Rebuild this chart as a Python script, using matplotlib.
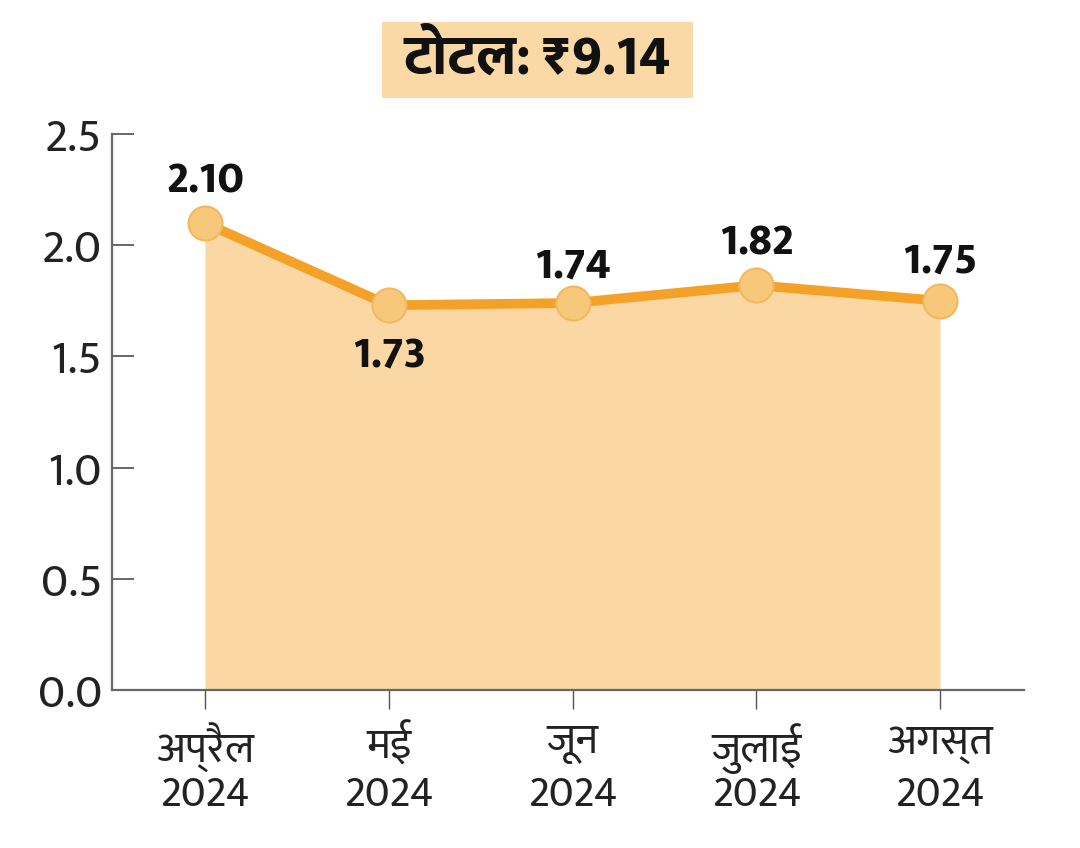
import matplotlib
matplotlib.use("Agg")
import matplotlib.pyplot as plt
from matplotlib import font_manager as fm
from matplotlib.patches import Rectangle

# ---- data ----
months = ["अप्रैल", "मई", "जून", "जुलाई", "अगस्त"]
years = ["2024", "2024", "2024", "2024", "2024"]
values = [2.10, 1.73, 1.74, 1.82, 1.75]
value_labels = ["2.10", "1.73", "1.74", "1.82", "1.75"]
y_ticks = [0.0, 0.5, 1.0, 1.5, 2.0, 2.5]
y_tick_labels = ["0.0", "0.5", "1.0", "1.5", "2.0", "2.5"]
title_text = "टोटल: ₹9.14"

installed = {}
for f in fm.fontManager.ttflist:
    installed.setdefault(f.name, set()).add(f.weight)

prefs = ["Mukta", "Ek Mukta", "Hind", "Noto Sans Devanagari", "FreeSans"]
fam = [p for p in prefs if p in installed][:2] + ["DejaVu Sans"]
plt.rcParams["font.family"] = fam
main = fam[0]
wts = installed.get(main, set())
bold_w = 800 if 800 in wts else "bold"

W, H = 1080, 848
fig = plt.figure(figsize=(W / 100, H / 100), dpi=100)

left, right, top, bottom = 112, 1024, 134, 690
ax = fig.add_axes([left / W, 1 - bottom / H, (right - left) / W, (bottom - top) / H])

x = list(range(len(values)))
fill_c = "#FBD8A3"
line_c = "#F4A128"

ax.fill_between(x, values, 0, color=fill_c, lw=0, zorder=1)
ax.plot(x, values, color=line_c, lw=7, solid_capstyle="round", zorder=3, clip_on=False)
ax.plot(x, values, ls="none", marker="o", ms=24.5, mfc="#F8C87A", mec="#F2B860",
        mew=1.5, zorder=4, clip_on=False)

offsets = [30, -37, 26, 30, 28]
for xi, v, lab, off in zip(x, values, value_labels, offsets):
    ax.annotate(lab, (xi, v), xytext=(0, off), textcoords="offset points",
                ha="center", va="center", fontsize=32, fontweight=bold_w,
                color="#111111", zorder=5)

ax.set_xlim(-0.506, 4.457)
ax.set_ylim(0, 2.5)
ax.set_yticks(y_ticks)
ax.set_yticklabels(y_tick_labels)
ax.set_xticks(x)
ax.set_xticklabels(months)

# second line of the x labels (year), at a fixed distance below the axis
for xi, yr in zip(x, years):
    ax.annotate(yr, (xi, 0), xycoords=("data", "axes fraction"),
                xytext=(0, -76), textcoords="offset points", ha="center", va="center",
                fontsize=31, color="#222222", annotation_clip=False)

for s in ["top", "right"]:
    ax.spines[s].set_visible(False)
for s in ["left", "bottom"]:
    ax.spines[s].set_color("#666666")
    ax.spines[s].set_linewidth(1.6)

ax.tick_params(axis="y", direction="in", length=16, width=1.4, color="#666666",
               labelsize=34, labelcolor="#222222", pad=7)
ax.tick_params(axis="x", direction="out", length=14, width=1.0, color="#555555",
               labelsize=31, labelcolor="#222222", pad=10)
ax.set_facecolor("white")

# title box
bx0, bx1, by0, by1 = 382, 693, 22, 98
fig.patches.append(Rectangle((bx0 / W, 1 - by1 / H), (bx1 - bx0) / W, (by1 - by0) / H,
                             transform=fig.transFigure, facecolor="#FBD9A6",
                             edgecolor="none", zorder=0))
fig.text((bx0 + bx1) / 2 / W, 1 - 60 / H, title_text, ha="center", va="center",
         fontsize=40, fontweight=bold_w, color="#111111")

fig.savefig("out.png", dpi=100, facecolor="white")
